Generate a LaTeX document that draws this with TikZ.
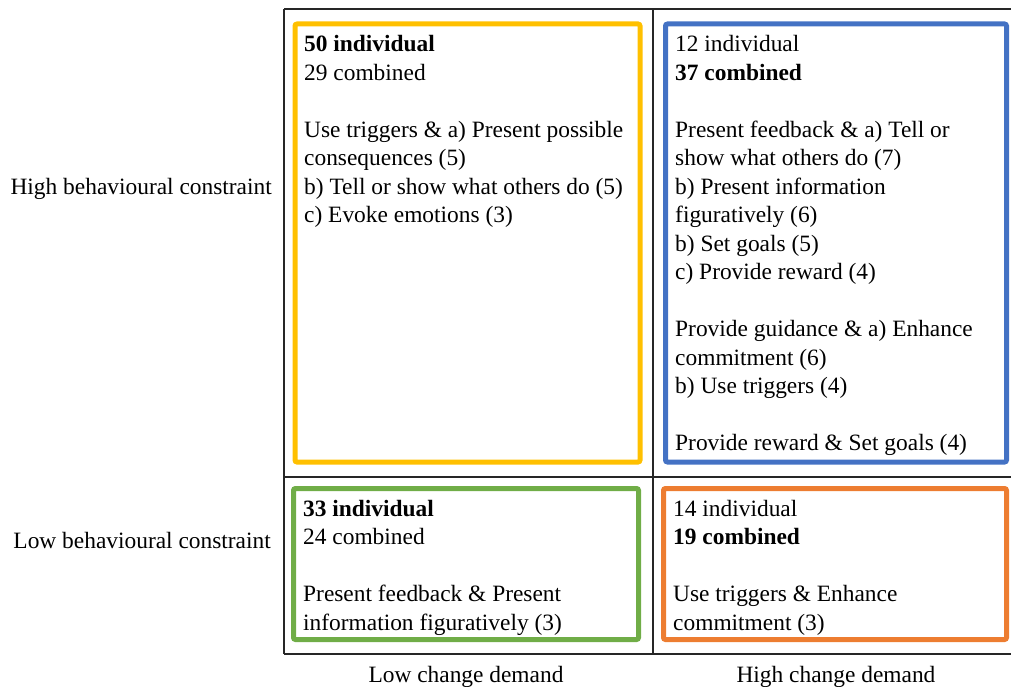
\documentclass[tikz,border=0pt]{standalone}
\usepackage{fontspec}
\setmainfont{Liberation Serif}
\definecolor{quadyellow}{RGB}{255,192,0}
\definecolor{quadblue}{RGB}{68,114,196}
\definecolor{quadgreen}{RGB}{112,173,71}
\definecolor{quadorange}{RGB}{237,125,49}
\begin{document}
\begin{tikzpicture}[x=1pt,y=1pt,yscale=-1,
  every node/.style={font=\fontsize{23.4}{28.5}\selectfont, inner sep=0pt},
  cell/.style={anchor=base west, text width=335pt, align=left,
    execute at begin node={\spaceskip=0pt\xspaceskip=0pt\relax}},
  grid/.style={line width=1.2pt, black!85},
  quad/.style={line width=5pt, rounded corners=2pt}]
\useasboundingbox (0,0) rectangle (1011,687);

%Straight Lines: frame
\draw[grid] (284,9) -- (1011,9);
\draw[grid] (284,477) -- (1011,477);
\draw[grid] (284,654) -- (1011,654);
\draw[grid] (284,9) -- (284,654);
\draw[grid] (653,9) -- (653,654);

%Shape: Rectangle
\draw[quad, quadyellow] (295,24) rectangle (640,462);
%Shape: Rectangle
\draw[quad, quadblue] (665.5,24) rectangle (1006.5,462);
%Shape: Rectangle
\draw[quad, quadgreen] (293.5,488.5) rectangle (638.5,639.5);
%Shape: Rectangle
\draw[quad, quadorange] (663.5,488.5) rectangle (1006.5,639.5);

% Text Node
\node[cell] (yellowtext) at (304,52) {\textbf{50 individual}\\
29 combined\\[28.5pt]
Use triggers \& a) Present possible\\
consequences (5)\\
b) Tell or show what others do (5)\\
c) Evoke emotions (3)};

% Text Node
\node[cell] (bluetext) at (675,52) {12 individual\\
\textbf{37 combined}\\[28.5pt]
Present feedback \& a) Tell or\\
show what others do (7)\\
b) Present information\\
figuratively (6)\\
b) Set goals (5)\\
c) Provide reward (4)\\[28.5pt]
Provide guidance \& a) Enhance\\
commitment (6)\\
b) Use triggers (4)\\[28.5pt]
Provide reward \& Set goals (4)};

% Text Node
\node[cell] (greentext) at (303,516) {\textbf{33 individual}\\
24 combined\\[28.5pt]
Present feedback \& Present\\
information figuratively (3)};

% Text Node
\node[cell] (orangetext) at (673,516) {14 individual\\
\textbf{19 combined}\\[28.5pt]
Use triggers \& Enhance\\
commitment (3)};

% Text Node
\node[anchor=base east] (highlabel) at (272,194) {High behavioural constraint};
% Text Node
\node[anchor=base east] (lowlabel) at (271,548) {Low behavioural constraint};
% Text Node
\node[anchor=base] (lowdemand) at (466,682) {Low change demand};
% Text Node
\node[anchor=base] (highdemand) at (836,682) {High change demand};

\end{tikzpicture}
\end{document}
